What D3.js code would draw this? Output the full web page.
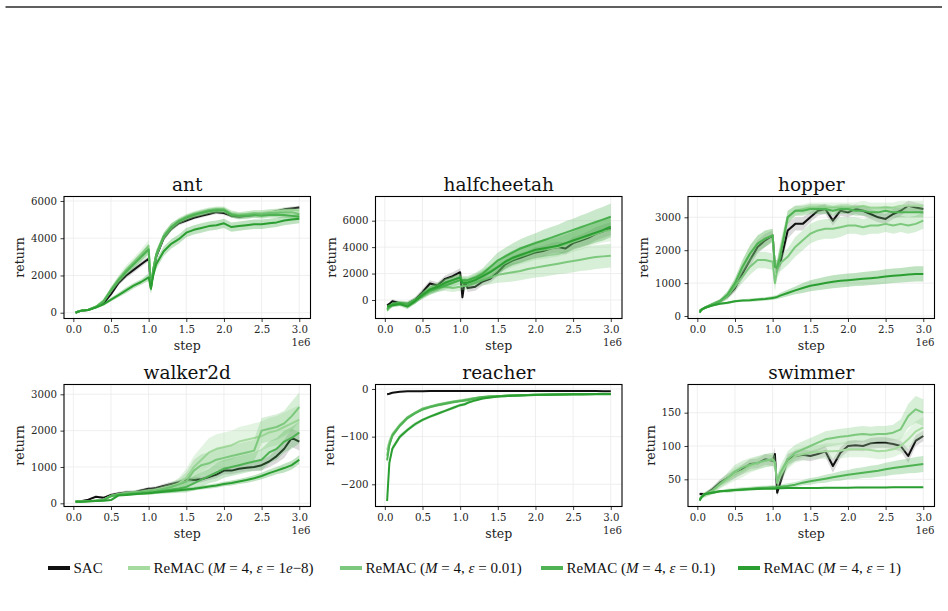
<!doctype html>
<html>
<head>
<meta charset="utf-8">
<style>
  body { margin: 0; background: #fff; }
  svg { display: block; font-family: "DejaVu Serif", serif; }
  .grid line { stroke: #ebebeb; stroke-width: 0.8; }
  .axis text { fill: #262626; font-size: 10.2px; font-family: "DejaVu Serif", serif; }
  .axis line { stroke: #262626; stroke-width: 0.9; }
</style>
<script src="https://d3js.org/d3.v7.min.js"></script>
</head>
<body>
<svg width="948" height="611"></svg>
<script>
// training steps (in units of 1e6)
var steps = [0.03, 0.06, 0.1, 0.2, 0.3, 0.4, 0.5, 0.6, 0.7, 0.8, 0.9, 1.0, 1.03, 1.06,
             1.1, 1.2, 1.3, 1.4, 1.5, 1.6, 1.7, 1.8, 1.9, 2.0, 2.1, 2.2, 2.3, 2.4, 2.5,
             2.6, 2.7, 2.8, 2.9, 3.0];
var xTicks = [0, 0.5, 1, 1.5, 2, 2.5, 3];
var envNames = ["ant", "halfcheetah", "hopper", "walker2d", "reacher", "swimmer"];
var methods = ["SAC", "ReMAC", "ReMAC", "ReMAC", "ReMAC"];
var epsLabels = [null, "1e\u22128", "0.01", "0.1", "1"];
var colors = ["#111111", "#a6dba0", "#7cc87c", "#4fb353", "#2a9e30"];

// order of series: SAC, eps=1e-8, eps=0.01, eps=0.1, eps=1
var antMean = [
  [0,50,100,150,300,500,1000,1600,2000,2300,2600,2900,1400,2100,3000,4000,4500,4800,4950,5100,5200,5300,5400,5350,5200,5150,5200,5250,5300,5350,5450,5550,5600,5650],
  [0,60,100,160,320,650,1250,1800,2300,2700,3100,3600,1300,2300,3100,4100,4600,4900,5100,5250,5350,5450,5500,5500,5300,5250,5300,5350,5350,5400,5450,5500,5500,5500],
  [0,60,100,160,320,600,1200,1750,2200,2600,3000,3400,1300,2300,3100,4100,4600,4950,5150,5300,5400,5500,5550,5550,5300,5200,5250,5300,5300,5350,5350,5400,5400,5300],
  [0,60,100,160,320,600,1200,1750,2200,2600,3000,3400,1300,2300,3100,4100,4600,4900,5100,5250,5350,5450,5500,5500,5250,5200,5200,5250,5200,5250,5250,5250,5200,5150],
  [0,50,100,150,280,450,700,950,1200,1450,1650,1900,1300,2000,2600,3300,3700,3950,4300,4450,4550,4650,4700,4800,4600,4650,4700,4750,4750,4800,4850,4950,5000,5050]
];
var antStd = [
  [20,20,20,30,40,60,100,120,150,150,150,150,200,200,150,150,120,120,100,100,100,100,100,100,100,100,100,100,100,100,100,100,100,100],
  [30,30,30,40,60,100,150,200,250,250,300,300,300,300,250,200,200,150,150,150,150,150,150,150,150,150,150,150,150,150,150,150,150,150],
  [30,30,30,40,60,100,150,200,200,250,250,300,300,300,250,200,200,150,150,150,150,150,150,150,200,200,200,200,200,200,200,200,200,200],
  [30,30,30,40,60,100,150,150,200,200,250,250,300,300,250,200,200,150,150,150,150,150,150,150,150,150,150,150,150,150,150,150,150,150],
  [30,30,30,40,50,80,100,120,150,150,150,200,200,250,250,250,250,250,250,250,250,250,250,250,250,250,250,250,250,250,250,250,250,250]
];
var halfcheetahMean = [
  [-400,-300,-100,-250,-300,0,600,1250,1100,1600,1800,2100,200,1400,900,1000,1400,1600,2100,2700,3000,3200,3400,3600,3700,3900,4000,3900,4300,4500,4700,5000,5200,5400],
  [-600,-500,-350,-250,-400,-100,400,800,1000,1300,1500,1700,1400,1400,1400,1600,1900,2200,2500,2800,3100,3300,3500,3700,3800,3900,4000,4200,4400,4600,4800,5000,5200,5300],
  [-800,-600,-400,-300,-350,-100,400,700,900,1000,900,1000,1050,1050,1100,1300,1500,1700,1900,2000,2100,2200,2350,2450,2550,2650,2750,2850,2950,3050,3150,3250,3300,3350],
  [-700,-500,-300,-200,-300,0,300,700,900,1100,1300,1500,1500,1500,1500,1700,2000,2500,3000,3300,3600,3900,4100,4300,4500,4700,4900,5100,5300,5500,5700,5900,6100,6300],
  [-500,-450,-400,-300,-500,-100,400,800,1000,1300,1500,1700,1300,1300,1300,1500,1800,2100,2500,2900,3200,3400,3600,3800,3900,4000,4100,4300,4500,4700,4900,5100,5300,5550]
];
var halfcheetahStd = [
  [100,100,150,150,150,200,250,250,250,250,300,300,300,300,300,300,300,300,300,300,350,350,350,400,400,400,400,450,450,450,500,500,500,500],
  [150,150,150,150,200,200,250,300,300,300,300,300,300,300,300,350,400,450,500,550,600,600,650,650,700,700,700,750,750,800,800,800,850,850],
  [150,150,150,150,200,200,250,300,300,300,300,300,300,300,300,350,400,500,600,650,700,700,750,750,800,800,800,850,850,850,900,900,900,900],
  [150,150,150,150,200,200,250,300,300,300,300,300,300,300,300,350,400,500,600,650,700,700,750,750,800,800,800,850,850,900,900,950,950,1000],
  [150,150,150,150,200,200,250,300,300,300,300,300,300,300,300,350,400,450,500,550,550,600,600,650,650,650,700,700,700,750,750,750,800,800]
];
var hopperMean = [
  [150,200,250,350,450,600,850,1300,1700,2100,2300,2450,1500,1450,1600,2600,2800,2800,3000,3200,3250,2900,3200,3150,3250,3200,3100,3000,2950,3100,3200,3350,3300,3250],
  [150,200,250,350,450,650,1000,1500,1900,2200,2350,2450,1500,1500,2000,3000,3200,3250,3300,3300,3300,3300,3300,3300,3300,3350,3300,3300,3300,3300,3350,3350,3350,3350],
  [150,200,250,350,450,600,900,1200,1500,1700,1700,1650,1000,1400,1600,1800,2100,2300,2500,2600,2650,2650,2700,2750,2750,2700,2750,2750,2800,2750,2800,2750,2800,2900],
  [150,200,250,350,450,650,1000,1500,1900,2200,2350,2450,1500,1500,1800,3000,3200,3200,3250,3250,3250,3200,3250,3250,3200,3200,3150,3150,3200,3150,3150,3150,3150,3150],
  [100,200,250,320,370,400,450,470,480,500,520,550,560,580,620,700,780,850,920,960,1000,1040,1070,1090,1110,1130,1150,1170,1200,1220,1240,1260,1280,1280]
];
var hopperStd = [
  [30,30,40,50,60,80,120,180,200,200,200,150,150,150,200,250,200,200,150,150,150,150,150,150,150,150,150,150,150,150,150,150,150,150],
  [30,30,40,50,60,100,150,200,250,250,250,200,200,200,250,200,150,150,150,150,150,150,150,150,150,150,150,150,150,150,150,150,150,150],
  [30,30,40,50,60,100,150,200,250,250,250,250,250,250,250,250,300,300,300,300,300,300,300,250,250,250,250,250,250,250,250,250,250,250],
  [30,30,40,50,60,100,150,200,250,250,250,200,200,200,250,200,150,150,150,150,150,150,150,150,150,150,150,150,150,150,150,150,150,150],
  [30,30,30,30,30,40,40,40,50,50,50,60,60,60,80,100,120,150,170,180,190,200,200,200,200,210,210,210,220,220,220,230,230,230]
];
var walker2dMean = [
  [50,50,60,100,180,150,230,270,300,300,350,400,400,410,420,480,530,580,660,640,660,720,790,900,900,950,980,1000,1050,1150,1300,1500,1800,1700],
  [50,50,50,60,80,100,200,250,280,300,320,350,350,360,380,420,470,550,700,1000,1200,1400,1500,1550,1600,1700,1750,1800,1850,1950,2000,2100,2200,2300],
  [50,50,50,60,80,100,200,250,280,300,320,340,345,350,360,400,450,520,600,900,1050,1100,1200,1250,1300,1350,1400,1450,2000,2050,2100,2200,2400,2650],
  [50,50,50,60,70,90,200,230,250,270,290,300,305,310,320,350,380,410,450,550,650,750,850,950,1000,1050,1100,1150,1200,1400,1500,1700,1800,1950],
  [40,40,40,50,60,70,90,220,230,250,260,280,285,290,300,320,340,360,380,400,430,460,490,530,560,600,640,690,750,830,900,970,1050,1200]
];
var walker2dStd = [
  [20,20,20,30,30,40,40,50,50,50,50,50,50,50,50,60,60,60,60,80,80,80,100,100,100,100,100,120,150,150,200,250,250,250],
  [20,20,20,20,20,30,40,40,50,50,50,60,60,60,60,80,100,150,250,300,350,400,400,400,400,400,400,400,400,400,400,400,400,400],
  [20,20,20,20,20,30,40,40,50,50,50,60,60,60,60,80,100,150,250,300,300,300,300,300,300,300,300,300,350,350,350,350,400,400],
  [20,20,20,20,20,30,40,40,50,50,50,60,60,60,60,80,100,120,150,200,200,200,250,250,250,250,250,250,300,300,300,300,300,300],
  [20,20,20,20,20,20,30,30,30,30,30,40,40,40,40,40,50,50,50,50,50,60,60,60,70,70,80,80,90,100,100,120,120,120]
];
var reacherMean = [
  [-11,-10,-8,-6,-5,-5,-5,-4.5,-4.5,-4.5,-4.5,-4.5,-4.5,-4.5,-4.5,-4.5,-4.5,-4.5,-4.5,-4.5,-4.5,-4.5,-4.5,-4.5,-4.5,-4.5,-4.5,-4.5,-4.5,-4.5,-4.5,-4.5,-5,-5],
  [-128,-110,-95,-75,-60,-50,-41,-37,-33,-30,-27,-24,-24,-23,-22,-19,-17,-16,-15,-14,-13.5,-13,-12.5,-12,-12,-11.5,-11.5,-11,-11,-11,-10.5,-10.5,-10,-10],
  [-140,-115,-97,-76,-60,-50,-42,-37,-33,-30,-27,-25,-24,-23,-22,-19,-17,-16,-15,-14,-13.5,-13,-12.5,-12,-12,-11.5,-11.5,-11,-11,-11,-10.5,-10.5,-10.5,-10.5],
  [-150,-118,-98,-77,-61,-51,-43,-38,-34,-31,-28,-25,-25,-24,-23,-20,-17,-16,-15,-14,-13.5,-13,-12.5,-12,-12,-11.5,-11.5,-11,-11,-11,-11,-11,-11,-11],
  [-235,-155,-125,-100,-86,-74,-65,-58,-52,-46,-40,-34,-33,-32,-29,-24,-20,-18,-16,-15,-14,-13.5,-13,-12.5,-12,-12,-11.5,-11.5,-11,-11,-11,-10.5,-10.5,-10.5]
];
var reacherStd = [
  [2,2,1.5,1.5,1.5,1.5,1.5,1.5,1.5,1.5,1.5,1.5,1.5,1.5,1.5,1.5,1.5,1.5,1.5,1.5,1.5,1.5,1.5,1.5,1.5,1.5,1.5,1.5,1.5,1.5,1.5,1.5,1.5,1.5],
  [8,6,5,4,4,3,3,3,3,3,3,3,3,3,3,2,2,2,2,2,2,2,2,2,2,2,2,2,2,2,2,2,2,2],
  [8,6,5,4,4,3,3,3,3,3,3,3,3,3,3,2,2,2,2,2,2,2,2,2,2,2,2,2,2,2,2,2,2,2],
  [8,6,5,4,4,3,3,3,3,3,3,3,3,3,3,2,2,2,2,2,2,2,2,2,2,2,2,2,2,2,2,2,2,2],
  [8,8,6,5,4,4,3,3,3,3,3,3,3,3,3,2,2,2,2,2,2,2,2,2,2,2,2,2,2,2,2,2,2,2]
];
var swimmerMean = [
  [28,28,27,35,45,52,58,65,73,74,80,78,88,30,45,80,85,87,85,88,92,70,90,100,101,100,104,105,105,103,100,85,108,115],
  [20,24,27,32,42,50,58,63,70,74,78,80,75,45,55,75,85,88,90,91,92,92,93,95,95,95,94,92,93,95,100,110,122,128],
  [20,24,27,33,43,52,62,68,72,75,78,80,75,45,60,80,90,95,100,105,110,112,114,115,117,118,117,118,118,120,125,145,155,150],
  [20,24,28,30,32,33,34,35,36,37,37.5,38,38,38.5,39,40,42,45,47,49,51,53,55,57,58.5,60,61.5,63,65,67,68.5,70,71.5,73],
  [18,24,28,30,32,33,34,34.5,35,35.5,36,36,36,36.5,36.5,37,37,37,37,37,37.2,37.3,37.4,37.5,37.6,37.7,37.8,37.8,37.9,38,38,38,38,38]
];
var swimmerStd = [
  [3,3,3,4,5,6,6,7,7,7,8,8,10,6,8,8,8,8,8,8,8,10,8,8,8,8,8,8,8,8,8,10,8,8],
  [3,3,4,5,6,8,10,10,10,10,10,10,10,10,10,10,10,10,10,10,12,12,12,12,12,12,12,12,12,12,12,14,15,15],
  [3,3,4,5,6,8,10,10,10,10,10,10,10,10,10,12,12,12,12,12,12,12,12,12,12,12,12,12,12,12,15,18,20,20],
  [2,2,2,2,2,3,3,3,3,3,3,3,3,3,3,4,4,4,5,5,6,6,7,7,8,8,9,9,10,10,11,11,12,12],
  [1,1,1,1,1,1,1,1,1,1,1,1,1,1,1,1,1,1,1,1,1,1,1,1,1,1,1,1,1,1,1,1,1,1]
];
var antTicks = [0, 2000, 4000, 6000];
var halfcheetahTicks = [0, 2000, 4000, 6000];
var hopperTicks = [0, 1000, 2000, 3000];
var walker2dTicks = [0, 1000, 2000, 3000];
var reacherTicks = [-200, -100, 0];
var swimmerTicks = [50, 100, 150];

var panels = [
  { mean: antMean, std: antStd, ticks: antTicks, ylim: [-310, 6240] },
  { mean: halfcheetahMean, std: halfcheetahStd, ticks: halfcheetahTicks, ylim: [-1400, 7830] },
  { mean: hopperMean, std: hopperStd, ticks: hopperTicks, ylim: [-76, 3632] },
  { mean: walker2dMean, std: walker2dStd, ticks: walker2dTicks, ylim: [-88, 3270] },
  { mean: reacherMean, std: reacherStd, ticks: reacherTicks, ylim: [-246.6, 9.4] },
  { mean: swimmerMean, std: swimmerStd, ticks: swimmerTicks, ylim: [9.2, 192.3] }
];

var svg = d3.select("svg");

// rule at the top of the page
svg.append("line")
   .attr("x1", 5.5).attr("x2", 942).attr("y1", 7).attr("y2", 7)
   .attr("stroke", "#2a2a2a").attr("stroke-width", 1.4);

var colLeft = [64, 375.5, 688], rowTop = [196.5, 384.5];
var axW = 246.5, axH = 122;

panels.forEach(function(p, i) {
    var left = colLeft[i % 3], top = rowTop[Math.floor(i / 3)];
    var x = d3.scaleLinear().domain([-0.124, 3.149]).range([left, left + axW]);
    var y = d3.scaleLinear().domain(p.ylim).range([top + axH, top]);
    var g = svg.append("g");

    var clipId = "clip" + i;
    g.append("clipPath").attr("id", clipId)
     .append("rect").attr("x", left).attr("y", top).attr("width", axW).attr("height", axH);

    // grid
    var grid = g.append("g").attr("class", "grid");
    grid.selectAll(".gx").data(xTicks).enter().append("line")
        .attr("x1", function(d) { return x(d); }).attr("x2", function(d) { return x(d); })
        .attr("y1", top).attr("y2", top + axH);
    grid.selectAll(".gy").data(p.ticks).enter().append("line")
        .attr("y1", function(d) { return y(d); }).attr("y2", function(d) { return y(d); })
        .attr("x1", left).attr("x2", left + axW);

    var plot = g.append("g").attr("clip-path", "url(#" + clipId + ")");
    p.mean.forEach(function(m, k) {
        var s = p.std[k];
        var area = d3.area()
            .x(function(d, j) { return x(steps[j]); })
            .y0(function(d, j) { return y(m[j] - s[j]); })
            .y1(function(d, j) { return y(m[j] + s[j]); });
        plot.append("path").datum(m)
            .attr("d", area)
            .attr("fill", k === 0 ? "#555" : colors[k])
            .attr("fill-opacity", k === 0 ? 0.22 : 0.3)
            .attr("stroke", "none");
        var line = d3.line()
            .x(function(d, j) { return x(steps[j]); })
            .y(function(d) { return y(d); });
        plot.append("path").datum(m)
            .attr("d", line)
            .attr("fill", "none")
            .attr("stroke", colors[k])
            .attr("stroke-width", 2)
            .attr("stroke-linejoin", "round");
    });

    // axes
    var xa = g.append("g").attr("class", "axis")
        .attr("transform", "translate(0," + (top + axH) + ")")
        .call(d3.axisBottom(x).tickValues(xTicks).tickFormat(d3.format(".1f"))
              .tickSize(3.5).tickPadding(3.5).tickSizeOuter(0));
    xa.select(".domain").remove();
    var ya = g.append("g").attr("class", "axis")
        .attr("transform", "translate(" + left + ",0)")
        .call(d3.axisLeft(y).tickValues(p.ticks).tickFormat(d3.format("d"))
              .tickSize(3.5).tickPadding(3.5).tickSizeOuter(0));
    ya.select(".domain").remove();

    g.append("rect")
     .attr("x", left).attr("y", top).attr("width", axW).attr("height", axH)
     .attr("fill", "none").attr("stroke", "#000").attr("stroke-width", 1.1);

    var maxW = 0;
    ya.selectAll("text").each(function() { maxW = Math.max(maxW, this.getComputedTextLength()); });

    g.append("text")
     .attr("x", left + axW / 2).attr("y", top - 6)
     .attr("text-anchor", "middle").attr("font-size", "18.5px").attr("fill", "#111")
     .text(envNames[i]);
    g.append("text")
     .attr("x", left + axW / 2).attr("y", top + axH + 31)
     .attr("text-anchor", "middle").attr("font-size", "12.5px").attr("fill", "#222")
     .text("step");
    g.append("text")
     .attr("x", left + axW).attr("y", top + axH + 27.5)
     .attr("text-anchor", "end").attr("font-size", "10.2px").attr("fill", "#262626")
     .text("1e6");
    g.append("text")
     .attr("transform", "translate(" + (left - 14 - maxW) + "," + (top + axH / 2) + ") rotate(-90)")
     .attr("text-anchor", "middle").attr("font-size", "12.5px").attr("fill", "#222")
     .text("return");
});

// legend
var legX = [48, 128, 340, 541, 738];
var legY = 568;
var legend = svg.append("g").attr("font-family", "'Liberation Serif', serif").attr("font-size", "15px");
methods.forEach(function(name, k) {
    legend.append("line")
      .attr("x1", legX[k]).attr("x2", legX[k] + 22)
      .attr("y1", legY).attr("y2", legY)
      .attr("stroke", colors[k]).attr("stroke-width", 4);
    var t = legend.append("text")
      .attr("x", legX[k] + 25.5).attr("y", legY + 5)
      .attr("fill", "#111");
    if (epsLabels[k] === null) { t.text(name); return; }
    t.append("tspan").text(name + " (");
    t.append("tspan").attr("font-style", "italic").text("M");
    t.append("tspan").text(" = 4, ");
    t.append("tspan").attr("font-style", "italic").text("\u03b5");
    t.append("tspan").text(" = ");
    var e = epsLabels[k];
    if (e.indexOf("e") > 0) {
        var parts = e.split("e");
        t.append("tspan").text(parts[0]);
        t.append("tspan").attr("font-style", "italic").text("e");
        t.append("tspan").text(parts[1] + ")");
    } else {
        t.append("tspan").text(e + ")");
    }
});
</script>
</body>
</html>
